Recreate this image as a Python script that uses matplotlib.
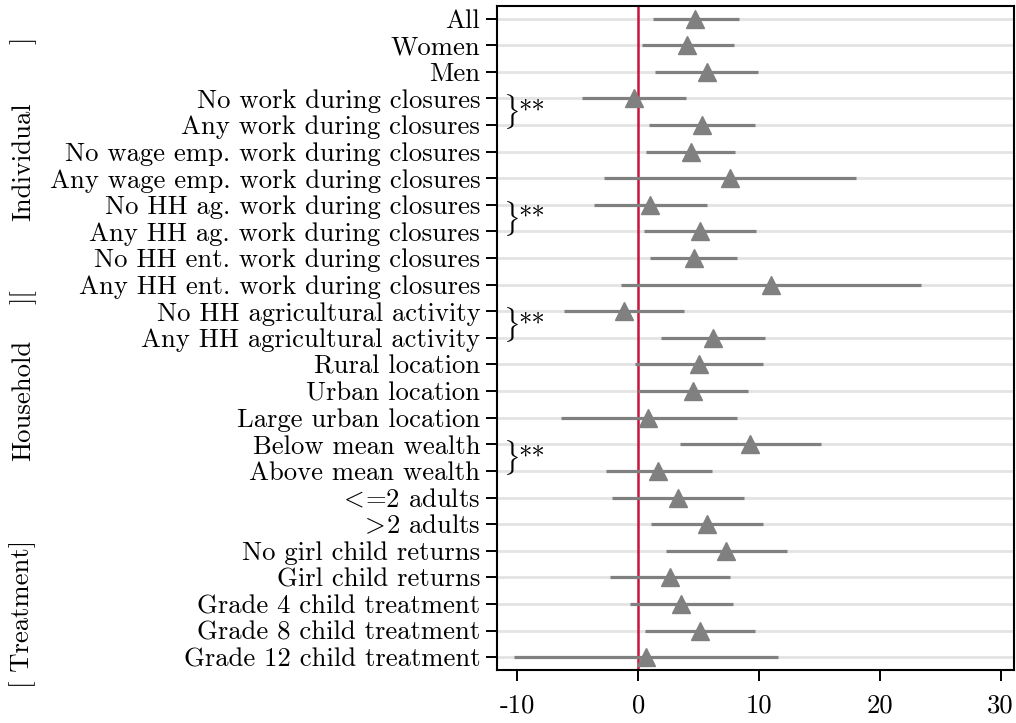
import matplotlib
matplotlib.use("Agg")
import matplotlib.pyplot as plt
import numpy as np

# Heterogeneity in treatment effects: point estimates with 95% CIs
labels = [
    "All", "Women", "Men",
    "No work during closures", "Any work during closures",
    "No wage emp. work during closures", "Any wage emp. work during closures",
    "No HH ag. work during closures", "Any HH ag. work during closures",
    "No HH ent. work during closures", "Any HH ent. work during closures",
    "No HH agricultural activity", "Any HH agricultural activity",
    "Rural location", "Urban location", "Large urban location",
    "Below mean wealth", "Above mean wealth",
    r"${<}\!$=2 adults", r"${>}\!$2 adults",
    "No girl child returns", "Girl child returns",
    "Grade 4 child treatment", "Grade 8 child treatment", "Grade 12 child treatment",
]
est = [4.73, 4.08, 5.67, -0.34, 5.30, 4.34, 7.60, 0.99, 5.08, 4.61, 11.02, -1.16, 6.19,
       5.03, 4.53, 0.85, 9.29, 1.67, 3.31, 5.69, 7.25, 2.67, 3.57, 5.10, 0.65]
ci_lo = [1.25, 0.31, 1.39, -4.64, 0.91, 0.65, -2.80, -3.67, 0.50, 1.02, -1.38, -6.10, 1.90,
         -0.25, -0.03, -6.39, 3.46, -2.69, -2.15, 1.05, 2.33, -2.32, -0.68, 0.60, -10.28]
ci_hi = [8.33, 7.90, 9.94, 3.99, 9.63, 8.05, 18.07, 5.72, 9.72, 8.18, 23.40, 3.81, 10.48,
         10.32, 9.09, 8.16, 15.16, 6.12, 8.78, 10.37, 12.29, 7.60, 7.85, 9.63, 11.56]

# pairs of rows whose difference is significant at 5%
sig_pairs = [(3, 4), (7, 8), (11, 12), (16, 17)]
sig_marks = ["**", "**", "**", "**"]

xticks = [-10, 0, 10, 20, 30]
xtick_labels = ["-10", "0", "10", "20", "30"]

plt.rcParams['font.family'] = ['cmr10', 'DejaVu Serif']
plt.rcParams['mathtext.fontset'] = 'cm'
plt.rcParams['axes.formatter.use_mathtext'] = True

FS = 19.2

fig = plt.figure(figsize=(10.16, 7.23), dpi=100)
ax = fig.add_axes([0.489, 0.0733, 0.5095, 0.9184])

y = np.arange(len(labels))
gray = "#808080"

for yi in y:
    ax.axhline(yi, color="#e3e3e3", lw=2.0, zorder=0)

ax.axvline(0, color="#c8143c", lw=1.8, zorder=1)
ax.hlines(y, ci_lo, ci_hi, color=gray, lw=2.3, zorder=2)
ax.plot(est, y, linestyle="none", marker="^", ms=12.5, color=gray, zorder=3)

ax.set_xlim(-11.7, 31.15)
ax.set_ylim(len(labels) - 0.52, -0.47)
ax.set_yticks(y)
ax.set_yticklabels(labels, fontsize=FS)
ax.set_xticks(xticks)
ax.set_xticklabels(xtick_labels, fontsize=FS)
ax.tick_params(axis="y", direction="out", length=8, width=1.4, pad=4)
ax.tick_params(axis="x", direction="out", length=8, width=1.4, pad=9)
for s in ax.spines.values():
    s.set_linewidth(1.5)

# braces with significance stars
for (a, b), mark in zip(sig_pairs, sig_marks):
    ym = (a + b) / 2
    ax.annotate(r"$\}$", xy=(0, ym), xycoords=("axes fraction", "data"),
                xytext=(4.5, 0), textcoords="offset points",
                ha="left", va="center", fontsize=21)
    ax.annotate(mark, xy=(0, a), xycoords=("axes fraction", "data"),
                xytext=(15.5, -1), textcoords="offset points",
                ha="left", va="top", fontsize=FS)

# group labels along the left edge
H = 723
for txt, ypix in [("]", 40), ("Individual", 162), ("][", 297),
                  ("Household", 400), ("[ Treatment]", 614)]:
    fig.text(23 / 1016, 1 - ypix / H, txt, rotation=90, ha="center", va="center",
             fontsize=FS)

fig.savefig("out.png", dpi=100)
